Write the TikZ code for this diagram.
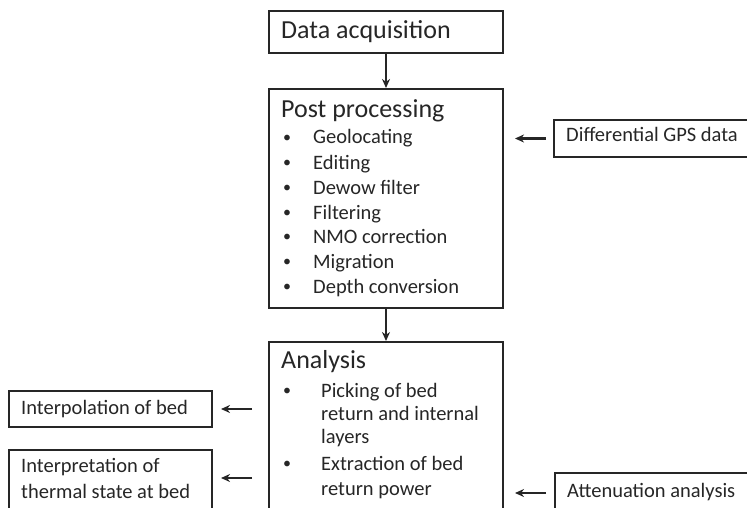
\documentclass[tikz,border=0pt]{standalone}
\usepackage{fontspec}
\setmainfont{Carlito}
\usetikzlibrary{calc,arrows.meta}
\begin{document}
\begin{tikzpicture}[x=1pt,y=-1pt,
  box/.style={draw=black!85, line width=2pt, anchor=north west, inner sep=0pt},
  ttl/.style={font=\fontsize{26}{26}\selectfont, anchor=west, inner sep=0pt, text=black!85, text height=19pt, text depth=6pt},
  itm/.style={font=\fontsize{20.5}{20.5}\selectfont, anchor=west, inner sep=0pt, text=black!85, text height=15pt, text depth=5pt},
  blt/.style={font=\fontsize{16}{16}\selectfont, anchor=west, inner sep=0pt, text=black!85, text height=15pt, text depth=5pt, yshift=1.5pt},
  arr/.style={-{Stealth[length=9pt,width=8pt]}, line width=2.2pt, draw=black!85},
]
\useasboundingbox (0,0) rectangle (747,508);
\clip (0,0) rectangle (747,508);

% boxes
\node[box, minimum width=234pt, minimum height=42pt] (da) at (268,10) {};
\node[box, minimum width=234pt, minimum height=219pt] (pp) at (268,88) {};
\node[box, minimum width=234pt, minimum height=190pt] (ana) at (268,341) {};
\node[box, minimum width=210pt, minimum height=37pt] (dgps) at (553,119) {};
\node[box, minimum width=210pt, minimum height=40pt] (att) at (554,472) {};
\node[box, minimum width=203pt, minimum height=36pt] (interp) at (8,390) {};
\node[box, minimum width=203pt, minimum height=80pt] (interp2) at (8,449) {};

% texts
\node[ttl] (tda) at (281,32) {Data acquisition};
\node[ttl] (tpp) at (281,111) {Post processing};
\foreach \y/\t [count=\i] in {139/Geolocating,164/Editing,189/Dewow filter,214/Filtering,238/NMO correction,263/Migration,288/Depth conversion}{
  \node[blt] (pb\i) at (283,\y) {•};
  \node[itm] (pt\i) at (313,\y) {\t};
}
\node[ttl] (tana) at (281,362) {Analysis};
\node[blt] (ab1) at (283,392) {•};
\node[itm] (at1) at (321,392) {Picking of bed};
\node[itm] (at2) at (321,415) {return and internal};
\node[itm] (at3) at (321,438) {layers};
\node[blt] (ab2) at (283,465) {•};
\node[itm] (at4) at (321,465) {Extraction of bed};
\node[itm] (at5) at (321,490) {return power};

\node[itm] (tdgps) at (566,137) {Differential GPS data};
\node[itm] (tatt) at (567,492) {Attenuation analysis};
\node[itm] (tint) at (21,409) {Interpolation of bed};
\node[itm] (tint2a) at (21,467) {Interpretation of};
\node[itm] (tint2b) at (21,493) {thermal state at bed};

% connectors
\draw[arr] (da.south) -- (pp.north);
\draw[arr] (pp.south) -- (ana.north);
\draw[arr, shorten <=7pt, shorten >=11pt] (dgps.west) -- (dgps.west -| pp.east);
\draw[arr, shorten <=8pt, shorten >=11pt] (att.west) -- (att.west -| ana.east);
\draw[arr, shorten <=16pt, shorten >=8pt] (interp.east -| ana.west) -- (interp.east);
\draw[arr, shorten <=16pt, shorten >=8pt] ($(interp2.north east -| ana.west)+(0,29)$) -- ($(interp2.north east)+(0,29)$);
\end{tikzpicture}
\end{document}
